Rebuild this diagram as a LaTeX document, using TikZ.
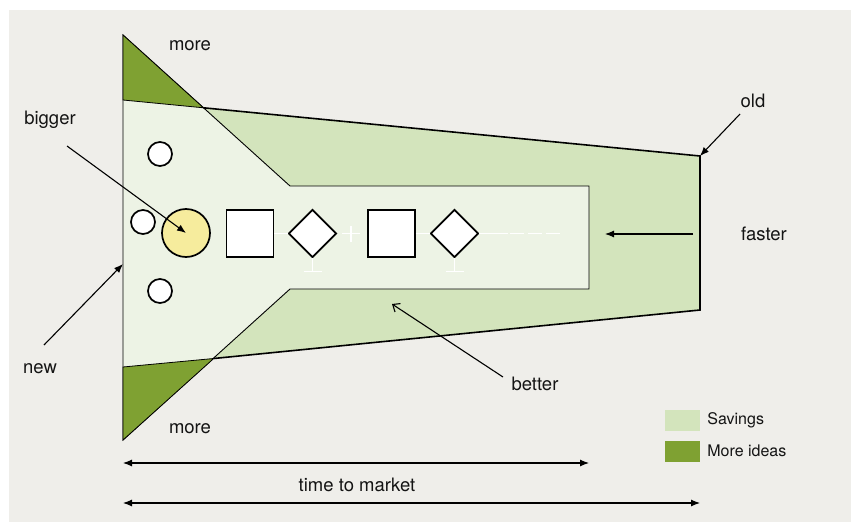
\documentclass[tikz,border=0pt]{standalone}
\usepackage{fontspec}
\setmainfont{TeX Gyre Heros}
\usetikzlibrary{arrows.meta,calc,positioning,shapes.geometric}

\definecolor{bggrey}{HTML}{EFEEEA}
\definecolor{savegreen}{HTML}{D3E4BC}
\definecolor{ideagreen}{HTML}{7FA132}
\definecolor{palegreen}{HTML}{EDF3E5}
\definecolor{ballyellow}{HTML}{F6EC9D}

\tikzset{
	lbl/.style={font=\fontsize{18.5}{20}\selectfont, text=black!92, inner sep=1pt},
	keylbl/.style={font=\fontsize{16}{18}\selectfont, text=black!92, inner sep=0pt, anchor=west},
	swatch/.style={minimum width=35pt, minimum height=21pt, inner sep=0pt},
	ptr/.style={line width=1.1pt, -{Latex[length=9pt,width=7pt]}},
	openptr/.style={line width=1.1pt, -{Straight Barb[length=6pt,width=10pt]}},
	span/.style={line width=1.1pt, {Latex[length=9pt,width=7pt]}-{Latex[length=9pt,width=7pt]}},
	blk/.style={draw=black, line width=1.7pt, fill=white, inner sep=0pt},
	wire/.style={draw=white, line width=1.6pt},
}

\begin{document}
\begin{tikzpicture}[x=1pt,y=-1pt]
	%%%%% START %%%%%
	\useasboundingbox (0,0) rectangle (851,522);
	\fill[bggrey] (9,10) rectangle (851,522);
	
	% corners of the trapezoid and the funnel
	\coordinate (tl) at (123,100);
	\coordinate (tr) at (700,156);
	\coordinate (br) at (700,310);
	\coordinate (bl) at (123,367);
	\coordinate (tipt) at (123,35);
	\coordinate (tipb) at (123,440);
	\coordinate (cutt) at (203.5,107.8);
	\coordinate (cutb) at (213.7,358.5);
	
	\fill[savegreen] (tl) -- (tr) -- (br) -- (bl) -- cycle;
	\filldraw[fill=palegreen, line width=0.9pt] (tipt) -- (290,186) -- (589,186) -- (589,289) -- (290,289) -- (tipb) -- cycle;
	\filldraw[fill=ideagreen, line width=0.8pt] (tipt) -- (tl) -- (cutt) -- cycle;
	\filldraw[fill=ideagreen, line width=0.8pt] (tipb) -- (bl) -- (cutb) -- cycle;
	\draw[line width=1.6pt] (cutt) -- (tr) -- (br) -- (cutb);
	
	% the pipeline
	\node[blk, circle, minimum size=24pt] (c1) at (160,154) {};
	\node[blk, circle, minimum size=24pt] (c2) at (143,222) {};
	\node[blk, circle, minimum size=24pt] (c3) at (160,291) {};
	\node[blk, circle, minimum size=48pt, fill=ballyellow] (ball) at (186,233) {};
	\node[blk, minimum size=47pt] (sq1) at (250,233.5) {};
	\node[blk, diamond, minimum size=48pt] (dm1) at (312.5,233.5) {};
	\node[blk, minimum size=47pt] (sq2) at (391.5,233.5) {};
	\node[blk, diamond, minimum size=48pt] (dm2) at (454.5,233.5) {};
	
	\draw[wire] (sq1.east) -- (dm1.west);
	\draw[wire] (sq2.east) -- (dm2.west);
	\draw[wire] (342,233.5) -- (360,233.5) (351,226) -- (351,242);
	\draw[wire] (dm2.east) -- (508,233.5);
	\draw[wire, dash pattern=on 14pt off 4pt] (510,233.5) -- (562,233.5);
	\foreach \d in {dm1,dm2}{
		\draw[wire] (\d.south) -- ++(0,13);
		\draw[wire] ($(\d.south)+(-9,13)$) -- ++(18,0);
	}
	
	% labels and pointers
	\node[lbl] (bigger) at (50,120) {bigger};
	\node[lbl] (new) at (40,369) {new};
	\node[lbl] (moretop) at (190,46) {more};
	\node[lbl] (morebot) at (190,429) {more};
	\node[lbl] (old) at (753,101) {old};
	\node[lbl] (faster) at (764,234) {faster};
	\node[lbl] (better) at (535,384) {better};
	
	\coordinate (biggertail) at (67,146);
	\coordinate (newtail) at (44,345);
	\coordinate (newtip) at (123,264);
	\coordinate (oldtail) at (740,114);
	\coordinate (fastertail) at (693,234);
	\coordinate (fastertip) at (605,234);
	\coordinate (bettertail) at (503,377);
	\coordinate (bettertip) at (392,304);
	
	\draw[ptr] (biggertail) -- (ball.center);
	\draw[ptr] (newtail) -- (newtip);
	\draw[ptr] (oldtail) -- (tr);
	\draw[ptr] (fastertail) -- (fastertip);
	\draw[openptr] (bettertail) -- (bettertip);
	
	% time axis
	\coordinate (ta) at (123,463);
	\coordinate (tb) at (589,463);
	\coordinate (tc) at (123,503);
	\coordinate (td) at (700,503);
	\draw[span] (ta) -- (tb);
	\draw[span] (tc) -- (td);
	\node[lbl] (ttm) at (357,485) {time to market};
	
	% key
	\node[swatch, fill=savegreen] (keysave) at (682.5,420.5) {};
	\node[swatch, fill=ideagreen] (keyidea) at (682.5,451.5) {};
	\node[keylbl, right=7pt of keysave] (savings) {Savings};
	\node[keylbl, right=7pt of keyidea, yshift=1pt] (ideas) {More ideas};
	
	%%%%% END %%%%%
\end{tikzpicture}
\end{document}
